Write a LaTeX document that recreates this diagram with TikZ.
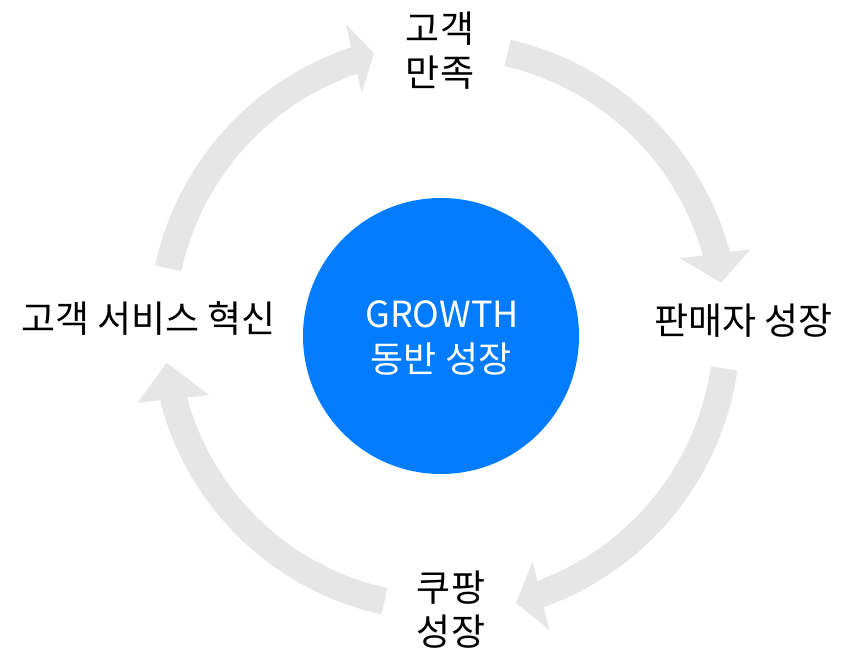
\documentclass[tikz,border=0pt]{standalone}
\usepackage{fontspec}
\setmainfont{Noto Sans CJK KR}
\definecolor{arrowgrey}{RGB}{230,230,230}
\definecolor{growthblue}{RGB}{2,124,255}
\begin{document}
\begin{tikzpicture}[x=1pt,y=1pt,
  shaft/.style={draw=arrowgrey, line width=27pt},
  headtip/.style={fill=arrowgrey},
  label/.style={font=\fontsize{37}{44}\selectfont, text=black, align=center, inner sep=0pt},
  hubtext/.style={font=\fontsize{36}{44}\selectfont, text=white, inner sep=0pt},
  hub/.style={circle, fill=growthblue, minimum size=276pt, inner sep=0pt}]
\useasboundingbox (0,0) rectangle (852,652);
\coordinate (c) at (444,324);
% hub
\node[hub] (hubnode) at (441,316) {};
\node[hubtext] (growth) at (442,338) {GROWTH};
\node[hubtext] (dongban) at (441,293) {동반 성장};
% labels
\node[label] (top) at (440,601) {고객\\만족};
\node[label] (right) at (743.5,331) {판매자 성장};
\node[label] (bottom) at (451,42) {쿠팡\\성장};
\node[label] (left) at (148.5,333) {고객 서비스 혁신};
% arrows: shafts
\draw[shaft] (c) ++(77.0:282.3) arc[start angle=77.0, end angle=14.5, radius=282.3];
\draw[shaft] (c) ++(167.8:282.2) arc[start angle=167.8, end angle=107.9, radius=282.2];
\draw[shaft] (c) ++(-8.2:283) arc[start angle=-8.2, end angle=-70.8, radius=283];
\draw[shaft] (c) ++(257.7:279.6) arc[start angle=257.7, end angle=193.9, radius=279.6];
% arrows: heads
\fill[headtip] (680,393.7) -- (750.7,402.7) -- (721,369.3) -- cycle;
\fill[headtip] (346,627.7) -- (361.7,558.7) -- (374,598.7) -- cycle;
\fill[headtip] (532.7,90.3) -- (549.3,22) -- (516,49.3) -- cycle;
\fill[headtip] (137.7,249.3) -- (209,257) -- (166.7,289.3) -- cycle;
\end{tikzpicture}
\end{document}
